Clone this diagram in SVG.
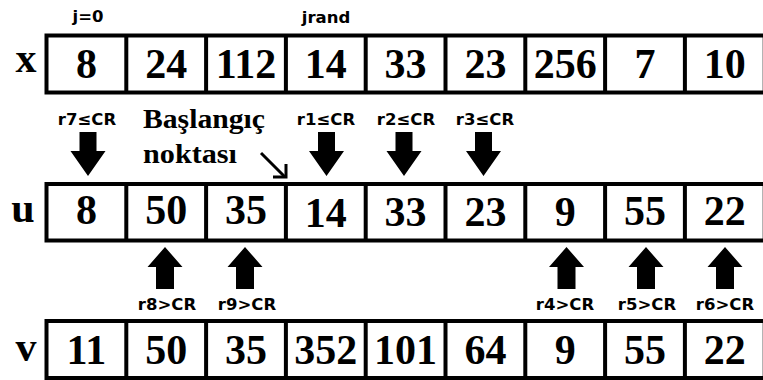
<svg xmlns="http://www.w3.org/2000/svg" width="763" height="380" viewBox="0 0 763 380">
  <defs>
    <style>
      .row { fill: #fff; stroke: #000; stroke-width: 4; }
      .div { stroke: #000; stroke-width: 4; }
      .num { font-family: "Liberation Serif", "Times New Roman", serif; font-weight: bold; font-size: 42px; text-anchor: middle; fill: #000; }
      .lbl { font-family: "Liberation Serif", "Times New Roman", serif; font-weight: bold; font-size: 42px; text-anchor: middle; fill: #000; }
      .tag { font-family: "DejaVu Sans", "Liberation Sans", sans-serif; font-weight: bold; font-size: 16.5px; text-anchor: middle; fill: #000; }
      .note { font-family: "Liberation Serif", "Times New Roman", serif; font-weight: bold; font-size: 28px; fill: #000; }
      .arrow { fill: #000; }
    </style>
    <path id="down" d="M-8.5,0 H8.5 V19 H17.5 L0,44 L-17.5,19 H-8.5 Z"/>
    <path id="up" d="M0,0 L17.5,20 H9 V42 H-9 V20 H-17.5 Z"/>
  </defs>
  <rect width="763" height="380" fill="#fff"/>

  <!-- vector x -->
  <g id="row-x">
    <rect class="row" x="46.5" y="35.5" width="718.2" height="57"/>
    <path class="div" d="M126.3,35.5V92.5M206.1,35.5V92.5M285.9,35.5V92.5M365.7,35.5V92.5M445.5,35.5V92.5M525.3,35.5V92.5M605.1,35.5V92.5M684.9,35.5V92.5"/>
    <text class="lbl" x="26" y="72">x</text>
    <g class="num">
      <text x="86.4" y="78">8</text>
      <text x="166.2" y="78">24</text>
      <text x="246" y="78">112</text>
      <text x="325.8" y="78">14</text>
      <text x="405.6" y="78">33</text>
      <text x="485.4" y="78">23</text>
      <text x="565.2" y="78">256</text>
      <text x="645" y="78">7</text>
      <text x="724.8" y="78">10</text>
    </g>
  </g>

  <!-- vector u -->
  <g id="row-u">
    <rect class="row" x="46.5" y="184" width="718.2" height="56.5"/>
    <path class="div" d="M126.3,184V240.5M206.1,184V240.5M285.9,184V240.5M365.7,184V240.5M445.5,184V240.5M525.3,184V240.5M605.1,184V240.5M684.9,184V240.5"/>
    <text class="lbl" x="23" y="222">u</text>
    <g class="num">
      <text x="86.4" y="224">8</text>
      <text x="166.2" y="224">50</text>
      <text x="246" y="224">35</text>
      <text x="325.8" y="227">14</text>
      <text x="405.6" y="226">33</text>
      <text x="485.4" y="226">23</text>
      <text x="565.2" y="226">9</text>
      <text x="645" y="225">55</text>
      <text x="724.8" y="225">22</text>
    </g>
  </g>

  <!-- vector v -->
  <g id="row-v">
    <rect class="row" x="46.5" y="321" width="718.2" height="57"/>
    <path class="div" d="M126.3,321V378M206.1,321V378M285.9,321V378M365.7,321V378M445.5,321V378M525.3,321V378M605.1,321V378M684.9,321V378"/>
    <text class="lbl" x="26" y="361">v</text>
    <g class="num">
      <text x="86.4" y="364">11</text>
      <text x="166.2" y="364">50</text>
      <text x="246" y="364">35</text>
      <text x="325.8" y="364">352</text>
      <text x="405.6" y="364">101</text>
      <text x="485.4" y="364">64</text>
      <text x="565.2" y="364">9</text>
      <text x="645" y="364">55</text>
      <text x="724.8" y="364">22</text>
    </g>
  </g>

  <!-- index markers above x -->
  <g id="index-tags" class="tag">
    <text x="88" y="22">j=0</text>
    <text x="326" y="23">jrand</text>
  </g>

  <!-- starting point note -->
  <g id="start-note">
    <text class="note" x="143" y="128" textLength="122" lengthAdjust="spacingAndGlyphs">Başlangıç</text>
    <text class="note" x="143" y="163" textLength="94" lengthAdjust="spacingAndGlyphs">noktası</text>
  </g>

  <g id="connectors">
    <!-- pointer to the starting cell -->
    <g fill="none" stroke="#000" stroke-width="3">
      <path d="M261,153 L285,177"/>
      <path d="M273,177 H286 V164"/>
    </g>
    <!-- components taken from v (r ≤ CR) -->
    <g class="arrow">
      <use href="#down" x="88" y="132"/>
      <use href="#down" x="326.5" y="132"/>
      <use href="#down" x="404" y="132"/>
      <use href="#down" x="483.5" y="132"/>
    </g>
    <g class="tag">
      <text x="87" y="125">r7≤CR</text>
      <text x="326" y="125">r1≤CR</text>
      <text x="406" y="125">r2≤CR</text>
      <text x="485" y="125">r3≤CR</text>
    </g>
    <!-- components kept from x (r > CR) -->
    <g class="arrow">
      <use href="#up" x="165" y="247"/>
      <use href="#up" x="245" y="247"/>
      <use href="#up" x="566.5" y="247"/>
      <use href="#up" x="646" y="247"/>
      <use href="#up" x="725" y="247"/>
    </g>
    <g class="tag">
      <text x="167" y="310">r8&gt;CR</text>
      <text x="247" y="310">r9&gt;CR</text>
      <text x="565" y="310">r4&gt;CR</text>
      <text x="647" y="310">r5&gt;CR</text>
      <text x="725" y="310">r6&gt;CR</text>
    </g>
  </g>
</svg>
